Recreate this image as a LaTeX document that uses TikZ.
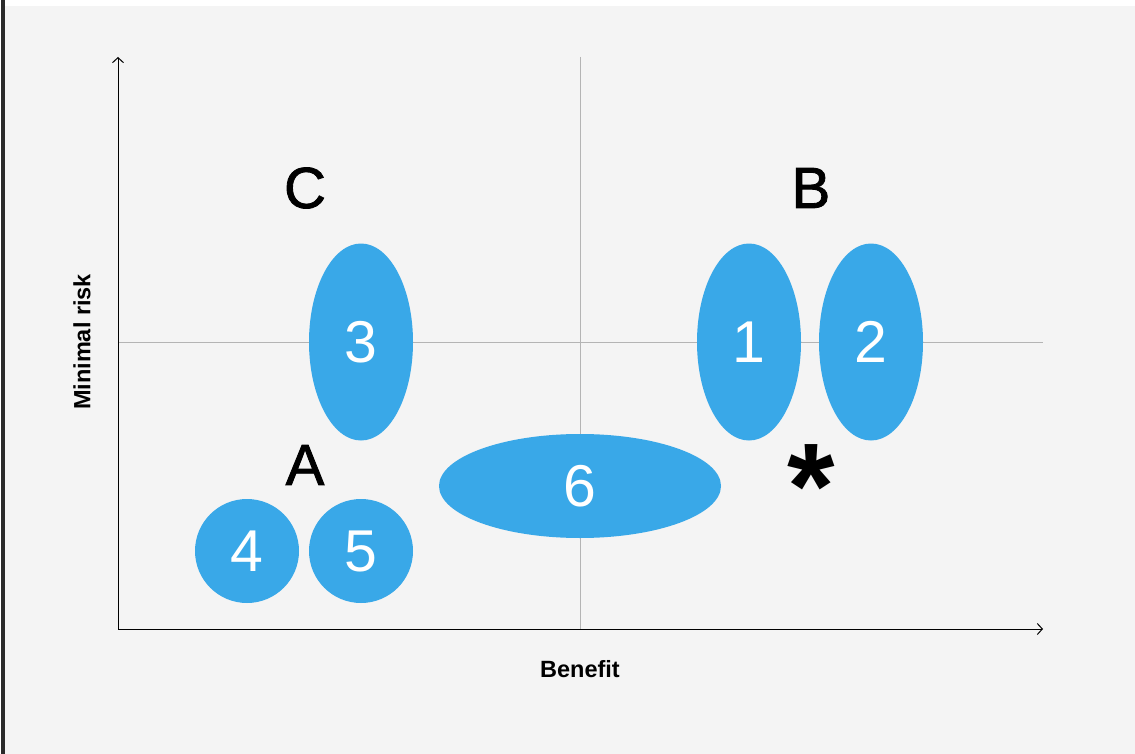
\documentclass[tikz,border=0pt]{standalone}
\usepackage{fontspec}
\setmainfont{Liberation Sans}
\usetikzlibrary{arrows.meta,shapes.geometric}
\definecolor{bg}{HTML}{F4F4F4}
\definecolor{bubble}{HTML}{39A8E8}
\definecolor{grid}{HTML}{B4B4B4}
\definecolor{bar}{HTML}{2A2A2A}
\tikzset{
  blob/.style={ellipse, fill=bubble, draw=none, inner sep=0pt, text=white,
    font=\fontsize{59}{61}\selectfont},
  quad/.style={font=\fontsize{58}{60}\selectfont\addfontfeature{FakeBold=1.5}, text=black, inner sep=0pt},
  axislabel/.style={font=\bfseries\fontsize{23.5}{25}\selectfont, text=black, inner sep=0pt},
  axis/.style={draw=black, line width=1pt, -{Straight Barb[length=5pt,width=11pt,line width=1pt]}},
  gridline/.style={draw=grid, line width=1pt},
}
\begin{document}
\begin{tikzpicture}[x=1pt,y=-1pt]
\useasboundingbox (0,0) rectangle (1135,754);
\fill[white] (0,0) rectangle (1135,754);
\fill[bg] (5,6) rectangle (1135,754);
\fill[bar] (1,0) rectangle (5,754);
% grid lines
\coordinate (gvT) at (580,57);
\coordinate (gvB) at (580,629);
\coordinate (ghL) at (118,342);
\coordinate (ghR) at (1043,342);
\draw[gridline] (gvT) -- (gvB);
\draw[gridline] (ghL) -- (ghR);
% axes
\coordinate (O) at (118,629);
\coordinate (Ytip) at (118,57);
\coordinate (Xtip) at (1043,629);
\draw[axis] (O) -- (Ytip);
\draw[axis] (O) -- (Xtip);
% blobs
\node[blob, minimum width=104pt, minimum height=197pt] (n3) at (361,342) {3};
\node[blob, minimum width=104pt, minimum height=197pt] (n1) at (749,342) {1};
\node[blob, minimum width=104pt, minimum height=197pt] (n2) at (871,342) {2};
\node[blob, minimum width=282pt, minimum height=104pt] (n6) at (580,486) {6};
\node[blob, minimum width=104pt, minimum height=104pt] (n4) at (247,551) {4};
\node[blob, minimum width=104pt, minimum height=104pt] (n5) at (361,551) {5};
% quadrant letters
\node[quad] (C) at (305,188) {C};
\node[quad] (B) at (811,188) {B};
\node[quad] (A) at (305,465) {A};
\node[inner sep=0pt, font=\bfseries\fontsize{122}{122}\selectfont, anchor=center] (star) at (811,487) {*};
% axis labels
\node[axislabel, rotate=90] (ylab) at (82,342) {Minimal risk};
\node[axislabel] (xlab) at (580,669) {Benefit};
\end{tikzpicture}
\end{document}
